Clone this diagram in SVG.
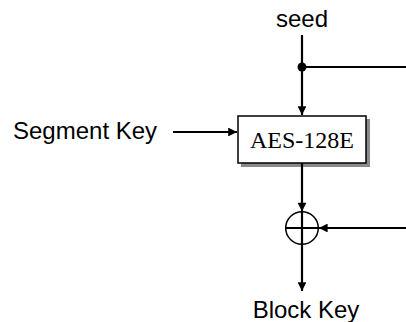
<svg xmlns="http://www.w3.org/2000/svg" width="406" height="322" viewBox="0 0 406 322">
  <defs>
    <marker id="arr" viewBox="0 0 10 10" refX="10" refY="5" markerWidth="4.5" markerHeight="4" markerUnits="strokeWidth" orient="auto">
      <path d="M0,0 L10,5 L0,10 Z" fill="#000"/>
    </marker>
  </defs>
  <style>
    .lbl { font-family: "Liberation Sans", Arial, sans-serif; font-size: 24px; fill: #000; }
    .box { fill: #fff; stroke: #000; stroke-width: 1.5; }
    .shadow { fill: #8a8a8a; }
    .ln { stroke: #000; stroke-width: 2.2; fill: none; }
  </style>
  <rect width="406" height="322" fill="#fff"/>
  <g id="seed"><text class="lbl" x="302" y="27" text-anchor="middle">seed</text></g>
  <g id="segment-key"><text class="lbl" x="13" y="139">Segment Key</text></g>
  <g id="aes">
    <rect class="shadow" x="241" y="119" width="129" height="48"/>
    <rect class="box" x="238" y="116" width="128" height="47"/>
    <text x="302" y="148" text-anchor="middle" font-family="'Liberation Serif', 'Times New Roman', serif" font-size="24">AES-128E</text>
  </g>
  <g id="xor">
    <circle cx="302" cy="228" r="16.3" fill="#fff" stroke="#000" stroke-width="1.5"/>
    <line class="ln" x1="285.7" y1="228" x2="318.3" y2="228"/>
    <line class="ln" x1="302" y1="211.7" x2="302" y2="244.3"/>
  </g>
  <g id="block-key"><text class="lbl" x="306" y="318" text-anchor="middle">Block Key</text></g>
  <g id="connectors">
    <line class="ln" x1="302" y1="35" x2="302" y2="115" marker-end="url(#arr)"/>
    <line class="ln" x1="302" y1="67" x2="406" y2="67"/>
    <circle cx="302" cy="67" r="4.5" fill="#000"/>
    <line class="ln" x1="173" y1="132" x2="237" y2="132" marker-end="url(#arr)"/>
    <line class="ln" x1="302" y1="163" x2="302" y2="211.5" marker-end="url(#arr)"/>
    <line class="ln" x1="406" y1="228" x2="318.8" y2="228" marker-end="url(#arr)"/>
    <line class="ln" x1="302" y1="244.3" x2="302" y2="291" marker-end="url(#arr)"/>
  </g>
</svg>
